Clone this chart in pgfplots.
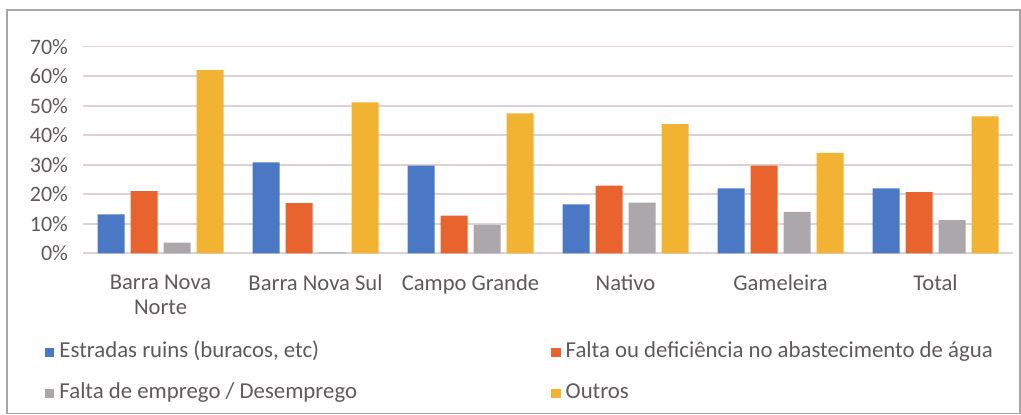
\documentclass[border=0pt]{standalone}
\usepackage{fontspec}
\setmainfont{Carlito}
\usepackage{pgfplots}
\pgfplotsset{compat=1.18}
\definecolor{cblue}{HTML}{4A78C4}
\definecolor{corange}{HTML}{E8632E}
\definecolor{cgray}{HTML}{ABA7AA}
\definecolor{cyellow}{HTML}{F2B232}
\definecolor{ctext}{HTML}{5E595C}
\definecolor{cgrid}{HTML}{DCD2D6}
\begin{document}
\begin{tikzpicture}
\useasboundingbox (0,0) rectangle (510.5pt,207.5pt);
\draw[color=black!35, line width=0.8pt] (3.5pt,0.8pt) rectangle (510pt,202.5pt);
\begin{axis}[
  at={(41.5pt,80.85pt)}, anchor=south west,
  scale only axis,
  width=465pt, height=103.3pt,
  xmin=-0.5, xmax=5.5, ymin=0, ymax=70,
  ybar, bar width=13.5pt,
  axis line style={draw=none},
  axis x line*=bottom,
  x axis line style={draw=cgrid, line width=0.8pt},
  tick style={draw=none},
  ytick={0,10,...,70},
  yticklabel={\pgfmathprintnumber{\tick}\%},
  /pgf/number format/assume math mode=true,
  ymajorgrids, grid style={draw=cgrid, line width=0.8pt},
  xtick=data,
  xticklabels={{Barra Nova\\Norte},{Barra Nova Sul},{Campo Grande},{Nativo},{Gameleira},{Total}},
  xticklabel style={align=center, font=\fontsize{11.3pt}{12.8pt}\selectfont, text=ctext, yshift=-3pt},
  yticklabel style={font=\fontsize{11pt}{12pt}\selectfont, text=ctext, xshift=-4pt},
  legend columns=2,
  legend cell align=left,
  legend style={draw=none, fill=none, at={(axis description cs:-0.041,-0.424)}, anchor=north west,
    inner sep=0pt, row sep=9.5pt,
    nodes={inner sep=0pt, text height=8pt, text depth=3pt, font=\fontsize{11.4pt}{12pt}\selectfont, text=ctext},
    /tikz/every odd column/.append style={column sep=2.5pt}},
  legend image code/.code={\fill[#1,draw=none] (0pt,-2.3pt) rectangle (4.6pt,2.3pt);},
]
\addplot[fill=cblue, draw=none, bar shift=-24.75pt] coordinates {(0,13.2) (1,30.8) (2,29.7) (3,16.6) (4,22.0) (5,22.0)};
\addlegendentry{\makebox[246pt][l]{Estradas ruins (buracos, etc)}}
\addplot[fill=corange, draw=none, bar shift=-8.25pt] coordinates {(0,21.1) (1,17.0) (2,12.8) (3,22.9) (4,29.7) (5,20.7)};
\addlegendentry{Falta ou deficiência no abastecimento de água}
\addplot[fill=cgray, draw=none, bar shift=8.25pt] coordinates {(0,3.6) (1,0.3) (2,9.6) (3,17.2) (4,14.0) (5,11.2)};
\addlegendentry{\makebox[246pt][l]{Falta de emprego / Desemprego}}
\addplot[fill=cyellow, draw=none, bar shift=24.75pt] coordinates {(0,62.1) (1,51.1) (2,47.4) (3,43.8) (4,34.0) (5,46.4)};
\addlegendentry{Outros}
\end{axis}
\end{tikzpicture}
\end{document}
